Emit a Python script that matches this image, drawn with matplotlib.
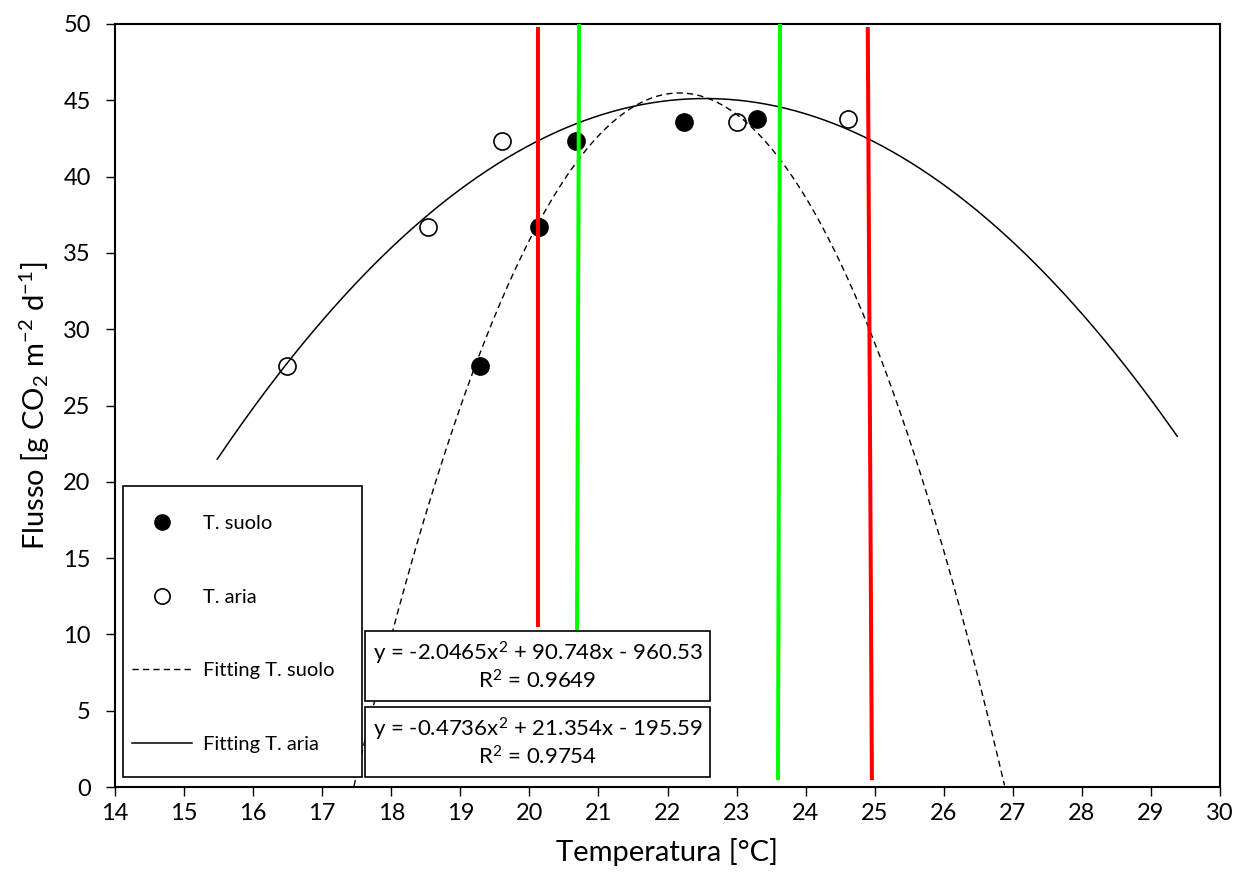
import numpy as np
import matplotlib
matplotlib.use("Agg")
import matplotlib.pyplot as plt
from matplotlib.patches import Rectangle
from matplotlib.lines import Line2D

plt.rcParams['font.family'] = ['Lato', 'DejaVu Sans']
plt.rcParams['mathtext.fontset'] = 'custom'
plt.rcParams['mathtext.rm'] = 'Lato'
plt.rcParams['mathtext.it'] = 'Lato:italic'

# dati
flusso = [27.6, 36.7, 42.35, 43.6, 43.75]
t_suolo = [19.28, 20.14, 20.68, 22.24, 23.29]
t_aria = [16.49, 18.53, 19.61, 23.01, 24.62]

# coefficienti dei fitting (a, b, c) e intervalli disegnati
coef_suolo = [-2.0465, 90.748, -960.53]
coef_aria = [-0.4736, 21.354, -195.59]
r2_suolo = 0.9649
r2_aria = 0.9754
range_suolo = [17.46, 26.88]
range_aria = [15.48, 29.38]

# linee verticali: (x in alto, x in basso, y in basso, y in alto)
linee_rosse = [(20.12, 20.12, 10.5, 49.8), (24.90, 24.96, 0.45, 49.8)]
linee_verdi = [(20.72, 20.69, 10.2, 50.0), (23.63, 23.60, 0.45, 50.2)]

fig = plt.figure(figsize=(12.46, 8.89), dpi=100)
ax = fig.add_axes([115/1246, 102/889, 1105/1246, 763/889])

ax.plot(t_suolo, flusso, 'o', ms=12.3, mfc='black', mec='black', mew=1.2, zorder=3)
ax.plot(t_aria, flusso, 'o', ms=12.3, mfc='white', mec='black', mew=1.2, zorder=3)

xs = np.linspace(range_suolo[0], range_suolo[1], 300)
ax.plot(xs, np.polyval(coef_suolo, xs), color='black', lw=1.0,
        ls=(0, (4.5, 3)), zorder=4)
xa = np.linspace(range_aria[0], range_aria[1], 300)
ax.plot(xa, np.polyval(coef_aria, xa), color='black', lw=1.1, zorder=4)

for x0, x1, y0, y1 in linee_rosse:
    ax.plot([x1, x0], [y0, y1], color='#ff0000', lw=2.9, zorder=5,
            solid_capstyle='butt')
for x0, x1, y0, y1 in linee_verdi:
    ax.plot([x1, x0], [y0, y1], color='#00ff00', lw=2.9, zorder=5,
            solid_capstyle='butt')

ax.set_xlim(14, 30)
ax.set_ylim(0, 50)
ax.set_xticks(np.arange(14, 31, 1))
ax.set_yticks(np.arange(0, 51, 5))
ax.tick_params(axis='both', direction='out', length=6.5, width=1.0,
               labelsize=17)
ax.tick_params(axis='x', pad=5)
ax.tick_params(axis='y', pad=11)
for s in ax.spines.values():
    s.set_linewidth(1.5)

ax.set_xlabel('Temperatura [°C]', fontsize=21, labelpad=10)
ax.set_ylabel(r'Flusso [g CO$_\mathregular{2}$ m$^\mathregular{-2}$ d$^\mathregular{-1}$]',
              fontsize=21, labelpad=8)

# riquadro legenda
ax.add_patch(Rectangle((14.11, 0.65), 3.46, 19.05, facecolor='white',
                       edgecolor='black', lw=1.2, zorder=6))
handles = [
    Line2D([], [], marker='o', ls='none', ms=11, mfc='black', mec='black'),
    Line2D([], [], marker='o', ls='none', ms=11, mfc='white', mec='black', mew=1.2),
    Line2D([], [], color='black', lw=1.0, ls=(0, (4.5, 3))),
    Line2D([], [], color='black', lw=1.1),
]
labels = ['T. suolo', 'T. aria', 'Fitting T. suolo', 'Fitting T. aria']
leg = ax.legend(handles, labels, loc='upper left', bbox_to_anchor=(0.0151, 0.356),
                frameon=False, fontsize=14.5, handlelength=3.0, handletextpad=0.55,
                labelspacing=2.8, borderpad=0, borderaxespad=0)
leg.set_zorder(7)

# riquadri equazioni
box_eq = [(coef_suolo, r2_suolo, 5.64), (coef_aria, r2_aria, 0.66)]
for c, r2, yb in box_eq:
    ax.add_patch(Rectangle((17.62, yb), 5.0, 4.58, facecolor='white',
                           edgecolor='black', lw=1.2, zorder=6))
    testo = ('y = %gx$^\\mathregular{2}$ + %gx - %g\nR$^\\mathregular{2}$ = %.4f'
             % (c[0], c[1], -c[2], r2))
    ax.text(17.62 + 2.5, yb + 2.29, testo, ha='center', va='center',
            multialignment='center', fontsize=16, zorder=7, linespacing=1.15)

fig.savefig('out.png', dpi=100)
